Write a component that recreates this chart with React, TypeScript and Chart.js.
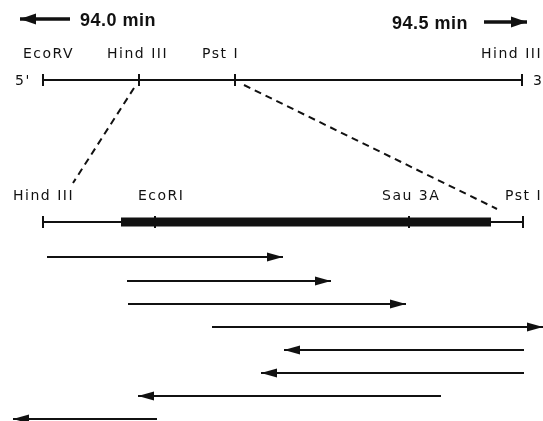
import { useEffect, useRef } from "react";
import { Chart, registerables } from "chart.js";

Chart.register(...registerables);

// Genomic map (top line): restriction sites and their positions
const topSiteNames = ["EcoRV", "Hind III", "Pst I", "Hind III"];
const topSitePos = [43, 139, 235, 522];
const topLabelLeft = [23, 107, 202, 481];
const topMapRow = 80;

// Expanded Hind III – Pst I fragment
const insertSiteNames = ["Hind III", "EcoRI", "Sau 3A", "Pst I"];
const insertSitePos = [43, 155, 409, 523];
const insertLabelLeft = [13, 138, 382, 505];
const insertRow = 222;
const codingStart = 121;
const codingEnd = 491;

// Sequencing clones (start -> end, arrow at end)
const cloneFrom = [47, 127, 128, 212, 524, 524, 441, 157];
const cloneTo = [283, 331, 406, 543, 284, 261, 138, 13];
const cloneRow = [257, 281, 304, 327, 350, 373, 396, 419];

// Minute markers
const minuteLabels = ["94.0 min", "94.5 min"];
const minuteLabelLeft = [80, 392];
const minuteArrowFrom = [70, 484];
const minuteArrowTo = [20, 527];
const minuteRow = [19, 22];

const INK = "#111";

const arrowPlugin = {
  id: "arrowHeads",
  afterDatasetsDraw(chart: any) {
    const ctx = chart.ctx;
    chart.data.datasets.forEach((ds: any, i: number) => {
      if (!ds.arrowHead) return;
      const meta = chart.getDatasetMeta(i);
      const pts = meta.data;
      if (pts.length < 2) return;
      const a = pts[pts.length - 2];
      const b = pts[pts.length - 1];
      const ang = Math.atan2(b.y - a.y, b.x - a.x);
      const len = ds.arrowHead.len;
      const hw = ds.arrowHead.half;
      ctx.save();
      ctx.fillStyle = INK;
      ctx.translate(b.x, b.y);
      ctx.rotate(ang);
      ctx.beginPath();
      ctx.moveTo(0, 0);
      ctx.lineTo(-len, -hw);
      ctx.lineTo(-len, hw);
      ctx.closePath();
      ctx.fill();
      ctx.restore();
    });
  },
};

const textPlugin = {
  id: "mapText",
  afterDraw(chart: any) {
    const ctx = chart.ctx;
    const xs = chart.scales.x;
    const ys = chart.scales.y;
    ctx.save();
    ctx.fillStyle = INK;
    ctx.textAlign = "left";
    ctx.textBaseline = "alphabetic";
    ctx.font = "14px 'DejaVu Sans'";
    (ctx as any).letterSpacing = "1.5px";
    topSiteNames.forEach((n, i) => {
      ctx.fillText(n, xs.getPixelForValue(topLabelLeft[i]), ys.getPixelForValue(topMapRow - 22));
    });
    insertSiteNames.forEach((n, i) => {
      ctx.fillText(n, xs.getPixelForValue(insertLabelLeft[i]), ys.getPixelForValue(insertRow - 22));
    });
    ctx.fillText("5'", xs.getPixelForValue(15), ys.getPixelForValue(topMapRow + 5));
    ctx.fillText("3'", xs.getPixelForValue(533), ys.getPixelForValue(topMapRow + 5));
    (ctx as any).letterSpacing = "0.5px";
    ctx.font = "bold 18px 'Liberation Sans'";
    minuteLabels.forEach((n, i) => {
      ctx.fillText(n, xs.getPixelForValue(minuteLabelLeft[i]), ys.getPixelForValue(minuteRow[i] + 7));
    });
    ctx.restore();
  },
};

const seg = (x1: number, y1: number, x2: number, y2: number) => [
  { x: x1, y: y1 },
  { x: x2, y: y2 },
];

export default function App() {
  const ref = useRef<HTMLCanvasElement>(null);
  useEffect(() => {
    document.body.style.margin = "0";
    const lineBase = {
      showLine: true,
      pointRadius: 0,
      borderColor: INK,
      borderWidth: 2,
      borderCapStyle: "butt",
    };
    const datasets: any[] = [
      { ...lineBase, data: seg(topSitePos[0], topMapRow, topSitePos[3], topMapRow) },
      {
        data: topSitePos.map((x) => ({ x, y: topMapRow })),
        showLine: false,
        pointStyle: "line",
        pointRadius: 6,
        pointRotation: 90,
        pointBorderWidth: 2,
        pointBorderColor: INK,
        pointBackgroundColor: INK,
      },
      { ...lineBase, data: seg(insertSitePos[0], insertRow, insertSitePos[3], insertRow) },
      { ...lineBase, borderWidth: 9, data: seg(codingStart, insertRow, codingEnd, insertRow) },
      {
        data: insertSitePos.map((x) => ({ x, y: insertRow })),
        showLine: false,
        pointStyle: "line",
        pointRadius: 6,
        pointRotation: 90,
        pointBorderWidth: 2,
        pointBorderColor: INK,
        pointBackgroundColor: INK,
      },
      { ...lineBase, borderDash: [7, 5], data: seg(134, topMapRow + 8, 73, 183) },
      { ...lineBase, borderDash: [7, 5], data: seg(244, topMapRow + 5, 497, 209) },
    ];
    cloneFrom.forEach((f, i) => {
      datasets.push({
        ...lineBase,
        data: seg(f, cloneRow[i], cloneTo[i], cloneRow[i]),
        arrowHead: { len: 16, half: 4.5 },
      });
    });
    minuteArrowFrom.forEach((f, i) => {
      datasets.push({
        ...lineBase,
        borderWidth: 3.5,
        data: seg(f, minuteRow[i], minuteArrowTo[i], minuteRow[i]),
        arrowHead: { len: 16, half: 5.5 },
      });
    });
    const chart = new Chart(ref.current!, {
      type: "scatter",
      data: { datasets },
      options: {
        animation: false,
        responsive: false,
        maintainAspectRatio: false,
        layout: { padding: 0, autoPadding: false },
        plugins: { legend: { display: false }, tooltip: { enabled: false }, title: { display: false } },
        events: [],
        scales: {
          x: { type: "linear", min: 0, max: 543, display: false },
          y: { type: "linear", min: 0, max: 421, reverse: true, display: false },
        },
      },
      plugins: [arrowPlugin, textPlugin],
    } as any);
    return () => chart.destroy();
  }, []);
  return (
    <div style={{ width: 543, height: 421, background: "#fff" }}>
      <canvas ref={ref} width={543} height={421} style={{ display: "block" }} />
    </div>
  );
}
